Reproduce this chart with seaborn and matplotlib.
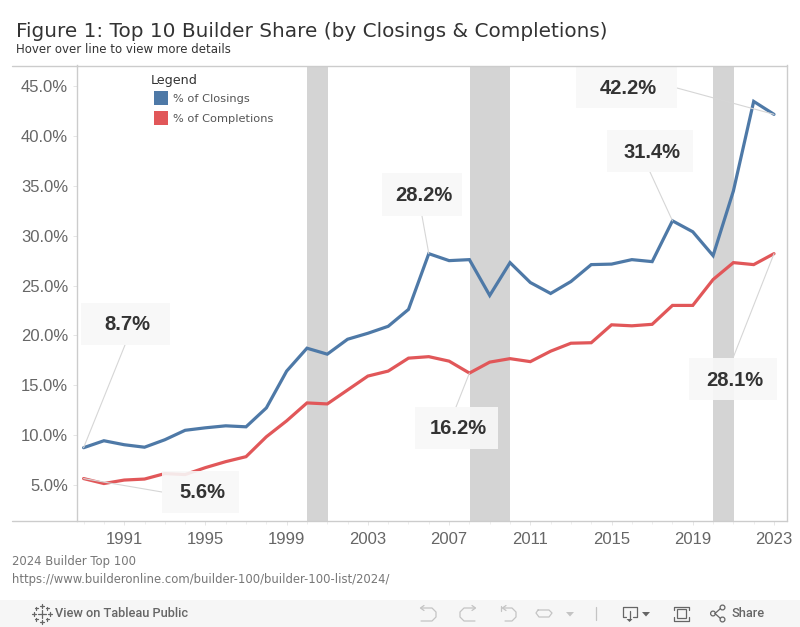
import matplotlib
matplotlib.use("Agg")
import matplotlib.pyplot as plt
from matplotlib.lines import Line2D
from matplotlib.patches import Rectangle, Polygon, Circle
from matplotlib.transforms import IdentityTransform
import pandas as pd
import seaborn as sns

W, H = 800, 627

years = list(range(1989, 2024))
closings = [8.7, 9.4, 9.0, 8.75, 9.5, 10.45, 10.7, 10.9, 10.8, 12.7, 16.4, 18.7,
            18.1, 19.6, 20.2, 20.9, 22.6, 28.2, 27.5, 27.6, 24.0, 27.3, 25.3, 24.2,
            25.4, 27.1, 27.15, 27.6, 27.4, 31.5, 30.4, 28.0, 34.5, 43.5, 42.2]
completions = [5.6, 5.1, 5.45, 5.55, 6.1, 6.0, 6.7, 7.3, 7.8, 9.8, 11.4, 13.2,
               13.1, 14.5, 15.9, 16.4, 17.7, 17.85, 17.4, 16.2, 17.3, 17.65, 17.35, 18.4,
               19.2, 19.25, 21.05, 20.95, 21.1, 23.0, 23.0, 25.6, 27.3, 27.1, 28.2]
recessions = [(2000, 2001), (2008, 2010), (2020, 2021)]
year_ticks = [1991, 1995, 1999, 2003, 2007, 2011, 2015, 2019, 2023]
pct_ticks = [5, 10, 15, 20, 25, 30, 35, 40, 45]

BLUE = "#4e79a7"
RED = "#e15759"
GRID = "#cccccc"
SANS = "Liberation Sans"

sns.set_theme(style="white")


def fx(px):
    return px / W


def fy(py):
    return 1 - py / H


df = pd.DataFrame({"year": years, "% of Closings": closings, "% of Completions": completions})
long_df = df.melt("year", var_name="measure", value_name="share")

fig = plt.figure(figsize=(8, 6.27), dpi=100)
ax = fig.add_axes([fx(76.5), fy(521), fx(787 - 76.5), (521 - 65.5) / H])

for start, end in recessions:
    ax.axvspan(start + 0.02, end + 0.02, color="#d4d4d4", lw=0, zorder=1)

sns.lineplot(data=long_df, x="year", y="share", hue="measure",
             palette=[BLUE, RED], lw=2.3, legend=False, ax=ax, zorder=2,
             solid_joinstyle="miter")

# same scale as the picture: 20.3 px a year, 9.96 px a percent
ax.set_xlim(1989 - (83.6 - 76.5) / 20.3, 2023 + (787 - 774) / 20.3)
ax.set_ylim(5 - (521 - 484.5) / 9.96, 45 + (86.5 - 65.5) / 9.96)

ax.set_xticks(year_ticks)
ax.set_xticks(years, minor=True)
ax.set_yticks(pct_ticks)
ax.set_yticklabels([f"{v:.1f}%" for v in pct_ticks])
ax.tick_params(axis="x", which="major", length=3, width=0.7, color="#e6e6e6", labelsize=12,
               labelcolor="#666666", pad=5, bottom=True, labelfontfamily=SANS)
ax.tick_params(axis="x", which="minor", length=2, width=0.7, color="#eeeeee", bottom=True)
ax.tick_params(axis="y", length=3, width=0.7, color="#e6e6e6", labelsize=12,
               labelcolor="#666666", pad=3, left=True, labelfontfamily=SANS)
ax.set_xlabel("")
ax.set_ylabel("")
for side in ["top", "bottom"]:
    ax.spines[side].set_visible(False)
for side in ["left", "right"]:
    ax.spines[side].set_color(GRID)
    ax.spines[side].set_linewidth(1)

# frame lines run on past the axis to the left
for py in [65.5, 521]:
    fig.add_artist(Line2D([fx(12), fx(787)], [fy(py), fy(py)], color=GRID, lw=1))


def callout(year, value, label, box, edge):
    x0, y0, x1, y1 = box
    ax.annotate("", xy=(year, value), xytext=(edge[0], H - edge[1]), textcoords="figure pixels",
                arrowprops=dict(arrowstyle="-", color="#d6d6d6", lw=0.8, shrinkA=0, shrinkB=0),
                zorder=3, annotation_clip=False)
    ax.add_patch(Rectangle((fx(x0), fy(y1)), fx(x1 - x0), (y1 - y0) / H, transform=fig.transFigure,
                           fc="#f8f8f8", ec="none", alpha=0.9, zorder=4, clip_on=False))
    ax.text(fx((x0 + x1) / 2 + 2), fy((y0 + y1) / 2 + 1), label, transform=fig.transFigure, ha="center",
            va="center", family=SANS, fontweight="bold", fontsize=14.5, color="#333333", zorder=5)


callout(2023, 42.2, "42.2%", (576, 67, 677, 108), (677, 88))
callout(2018, 31.5, "31.4%", (607, 130, 693, 172), (650, 172))
callout(2006, 28.2, "28.2%", (382, 173, 462, 216), (422, 216))
callout(1989, 8.7, "8.7%", (81, 303, 170, 345), (125, 345))
callout(1989, 5.6, "5.6%", (162, 471, 239, 513), (162, 492))
callout(2008, 16.2, "16.2%", (415, 407, 498, 449), (456, 407))
callout(2023, 28.2, "28.1%", (689, 358, 777, 400), (733, 358))

# headings and legend
fig.text(fx(16), fy(37), "Figure 1: Top 10 Builder Share (by Closings & Completions)",
         fontsize=14.45, color="#333333", va="baseline")
fig.text(fx(16), fy(53), "Hover over line to view more details", fontsize=8.5,
         color="#333333", va="baseline")
fig.text(fx(151), fy(84), "Legend", fontsize=9.2, color="#333333", va="baseline")
for py, color, name in [(98, BLUE, "% of Closings"), (118, RED, "% of Completions")]:
    fig.add_artist(Rectangle((fx(154), fy(py + 7)), fx(14), 14 / H, transform=fig.transFigure,
                             fc=color, ec="none"))
    fig.text(fx(173), fy(py + 1), name, fontsize=8.2, color="#555555", va="center")

fig.text(fx(12), fy(565), "2024 Builder Top 100", fontsize=8.38, color="#777777", va="baseline")
fig.text(fx(12), fy(583), "https://www.builderonline.com/builder-100/builder-100-list/2024/",
         fontsize=8.38, color="#777777", va="baseline")

# toolbar strip
fig.add_artist(Rectangle((0, 0), 1, 27 / H, transform=fig.transFigure, fc="#f6f6f6", ec="none"))
fig.text(fx(55), fy(613.5), "View on Tableau Public", family="Roboto", fontsize=9.2,
         fontweight="medium", color="#666666", va="center")
fig.text(fx(732), fy(613.5), "Share", family="Roboto", fontsize=9.2, fontweight="medium",
         color="#666666", va="center")


def stroke(points, color="#666666", lw=0.9):
    xs = [fx(p[0]) for p in points]
    ys = [fy(p[1]) for p in points]
    fig.add_artist(Line2D(xs, ys, color=color, lw=lw))


# logo: a few small crosses
for cx, cy, size in [(41.5, 613.5, 4), (33.5, 613.5, 2), (49.5, 613.5, 2), (41.5, 605.5, 2),
                     (41.5, 621.5, 2), (36, 608, 1.5), (47, 608, 1.5), (36, 619, 1.5), (47, 619, 1.5)]:
    stroke([(cx - size, cy), (cx + size, cy)])
    stroke([(cx, cy - size), (cx, cy + size)])

# greyed out undo / redo / revert / refresh
FADED = "#c4c4c4"
stroke([(421, 608), (432, 608), (436, 612), (436, 617), (432, 621), (421, 621)], FADED)
stroke([(424, 605.5), (420.5, 608), (424, 610.5)], FADED)
stroke([(475, 608), (464, 608), (460, 612), (460, 617), (464, 621), (475, 621)], FADED)
stroke([(472, 605.5), (475.5, 608), (472, 610.5)], FADED)
stroke([(503, 608), (512, 608), (516, 612), (516, 617), (512, 621), (505, 621)], FADED)
stroke([(506, 605.5), (502.5, 608), (506, 610.5)], FADED)
stroke([(500.5, 606), (500.5, 611)], FADED)
stroke([(538, 610), (549, 610), (552, 613), (549, 617), (539, 617), (536, 613), (538, 610)], FADED)
fig.add_artist(Polygon([(fx(566), fy(612)), (fx(574), fy(612)), (fx(570), fy(616.5))],
                       transform=fig.transFigure, fc=FADED, ec="none"))
stroke([(595.5, 607), (595.5, 620)], FADED)

# download
stroke([(626, 616.5), (622.5, 616.5), (622.5, 606.5), (636.5, 606.5), (636.5, 616.5), (633, 616.5)])
stroke([(629.5, 611), (629.5, 620)])
fig.add_artist(Polygon([(fx(626.5), fy(619)), (fx(632.5), fy(619)), (fx(629.5), fy(622))],
                       transform=fig.transFigure, fc="#666666", ec="none"))
fig.add_artist(Polygon([(fx(642), fy(612)), (fx(650), fy(612)), (fx(646), fy(616.5))],
                       transform=fig.transFigure, fc="#666666", ec="none"))

# fullscreen
stroke([(673.5, 610), (673.5, 606.5), (688.5, 606.5), (688.5, 610)])
stroke([(673.5, 617), (673.5, 621), (688.5, 621), (688.5, 617)])
fig.add_artist(Rectangle((fx(676.5), fy(618)), fx(9), 9 / H, transform=fig.transFigure,
                         fc="none", ec="#666666", lw=0.9))

# share
stroke([(715, 613.5), (720.5, 608.5)])
stroke([(715, 613.5), (720.5, 618.5)])
for cx, cy in [(713, 613.5), (722.5, 607.5), (722.5, 619.5)]:
    fig.add_artist(Circle((cx, H - cy), 2.4, transform=IdentityTransform(),
                          fc="#f6f6f6", ec="#666666", lw=0.9))

fig.savefig("out.png", dpi=100)
plt.close(fig)
